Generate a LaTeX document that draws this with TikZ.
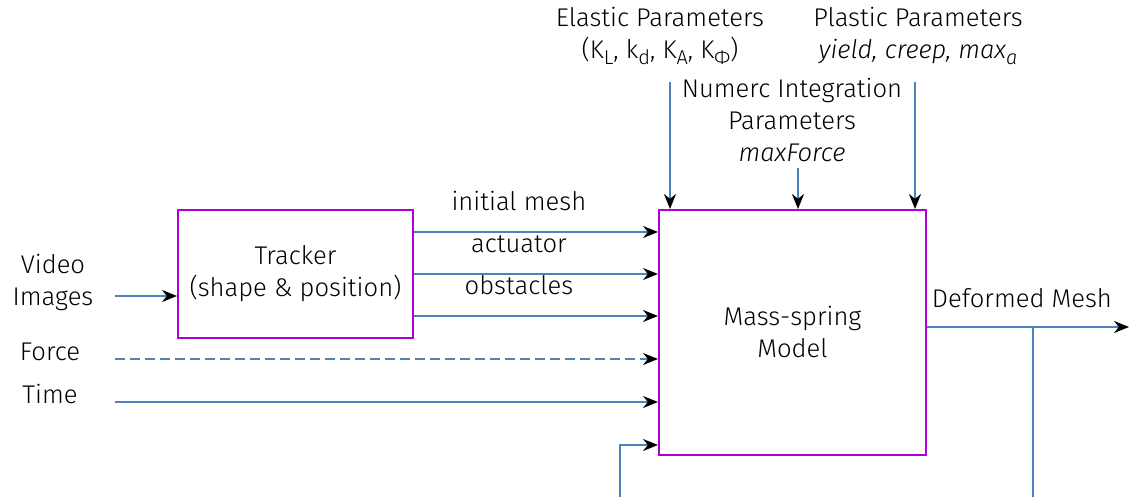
\documentclass[tikz,border=0pt]{standalone}
\usepackage{fontspec}
\setmainfont{Fira Sans}[UprightFont=* Light,ItalicFont=* Light Italic]
\usepackage{tikz}
\usetikzlibrary{positioning,arrows.meta,calc}
\definecolor{wire}{HTML}{4F81BD}
\definecolor{frame}{HTML}{B000D8}
\tikzset{
  blk/.style={rectangle,draw=frame,line width=1pt,align=center,inner sep=0pt},
  ar/.style={-{Stealth[length=7.5pt,width=6pt,black]},draw=wire,line width=1pt},
  ln/.style={draw=wire,line width=1pt},
  lbl/.style={align=center,inner sep=0pt},
}
\newcommand{\lowsub}[1]{\raisebox{-0.4ex}{\fontsize{10}{10}\selectfont #1}}

\begin{document}
\begin{tikzpicture}[x=0.5pt,y=-0.5pt,every node/.style={font=\fontsize{12.8}{16}\selectfont}]
  \useasboundingbox (0,0) rectangle (1129,497);
  \node[blk,minimum width=117.5pt,minimum height=64pt] (trk) at (295.5,274) {Tracker\\(shape \& position)};
  \node[blk,minimum width=133.5pt,minimum height=122.5pt] (msm) at (792.5,332.5) {Mass-spring\\Model};
  % inputs on the left
  \node[lbl] (vid) at (53,282) {Video\\Images};
  \node[lbl] (frc) at (50,352) {Force};
  \node[lbl] (tim) at (50,394) {Time};
  \coordinate (vidin) at (115,296);
  \coordinate (frcin) at (115,359);
  \coordinate (timin) at (115,402);
  \draw[ar] (vidin) -- (vidin -| trk.west);
  \draw[ar,dash pattern=on 5pt off 2.5pt] (frcin) -- (frcin -| msm.west);
  \draw[ar] (timin) -- (timin -| msm.west);
  % tracker to model
  \foreach \d/\t in {-42/initial mesh,0/actuator,42/obstacles}
    \draw[ar] (trk.east) ++(0,\d) coordinate (s) -- (s -| msm.west)
      node[pos=0.43,above=10pt,inner sep=0pt] {\t};
  % parameters on top
  \node[lbl] (ela) at (660,36) {Elastic Parameters\\(K\lowsub{L}, k\lowsub{d}, K\lowsub{A}, K\lowsub{Φ})};
  \node[lbl] (num) at (792,120) {Numerc Integration\\Parameters\\\textit{maxForce}};
  \node[lbl] (pla) at (918,36) {Plastic Parameters\\\textit{yield, creep, max\lowsub{a}}};
  \coordinate (elain) at (670,82);
  \coordinate (numin) at (798,168);
  \coordinate (plain) at (915,82);
  \foreach \c in {elain,numin,plain}
    \draw[ar] (\c) -- (\c |- msm.north);
  % feedback and output
  \coordinate (fb) at (620,497);
  \draw[ar] (fb) |- ($(msm.south west)+(0,-11)$);
  \coordinate (out) at (1129,327);
  \draw[ar] (out -| msm.east) -- (out)
    node[pos=0.47,above=9pt,inner sep=0pt] {Deformed Mesh};
  \coordinate (br) at (1033,497);
  \draw[ln] (br |- out) -- (br);
\end{tikzpicture}
\end{document}
